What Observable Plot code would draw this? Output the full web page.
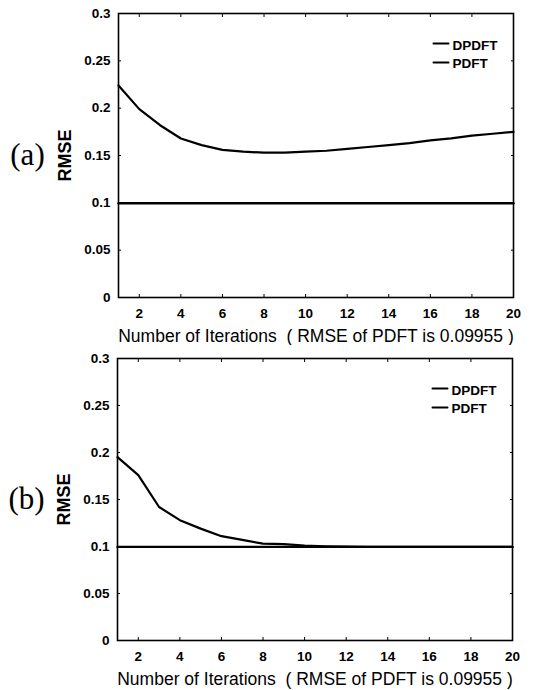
<!DOCTYPE html>
<html>
<head>
<meta charset="utf-8">
<script src="https://cdn.jsdelivr.net/npm/d3@7"></script>
<script src="https://cdn.jsdelivr.net/npm/@observablehq/plot@0.6"></script>
<style>
  html, body { margin: 0; padding: 0; background: #fff; }
  #chart svg { display: block; }
</style>
</head>
<body>
<div id="chart"></div>
<script>
// ---- data ----
const iterations = [1,2,3,4,5,6,7,8,9,10,11,12,13,14,15,16,17,18,19,20];
const dpdftA = [0.224,0.199,0.182,0.168,0.161,0.156,0.154,0.153,0.153,0.154,0.155,0.157,0.159,0.161,0.163,0.166,0.168,0.171,0.173,0.175];
const dpdftB = [0.195,0.176,0.142,0.128,0.119,0.111,0.107,0.103,0.1025,0.101,0.1002,0.0998,0.0996,0.0996,0.0996,0.0996,0.0996,0.0996,0.0996,0.0996];
const pdftRMSE = 0.09955;
const pdftValues = iterations.map(() => pdftRMSE);
const xTicks = [2,4,6,8,10,12,14,16,18,20];
const yTicks = [0,0.05,0.1,0.15,0.2,0.25,0.3];
const yTickLabels = ["0","0.05","0.1","0.15","0.2","0.25","0.3"];
const seriesNames = ["DPDFT", "PDFT"];
const panelLabels = ["(a)", "(b)"];
const xTitle = "Number of Iterations  ( RMSE of PDFT is 0.09955 )";
const yTitle = "RMSE";

const sans = "'Liberation Sans', Arial, sans-serif";
const serif = "'Liberation Serif', 'Times New Roman', serif";

const lineShape = {draw(ctx, l) { ctx.moveTo(0, 0); ctx.lineTo(0, -l); }};

function legendEntry(name, i) {
  return [
    Plot.vector([name], {frameAnchor: "top-right", dx: -80, dy: 30 + i * 19, rotate: 90, length: 15, anchor: "start", shape: lineShape, stroke: "#000", strokeWidth: 2}),
    Plot.text([name], {text: d => d, frameAnchor: "top-right", dx: -61, dy: 32 + i * 18, textAnchor: "start", lineAnchor: "middle", fontSize: 13.5, fontWeight: "bold", fontFamily: sans, fill: "#000"})
  ];
}

function panel(dp, label, margins) {
  const rowsD = iterations.map((x, i) => ({x, y: dp[i]}));
  const rowsP = iterations.map((x, i) => ({x, y: pdftValues[i]}));
  const tickFont = {fontSize: 13.5, fontWeight: "bold", fontFamily: sans};
  return Plot.plot({
    width: 553,
    height: 345,
    ...margins,
    style: {fontFamily: sans, background: "#fff", color: "#000"},
    x: {domain: [1, 20], ticks: xTicks},
    y: {domain: [0, 0.3], ticks: yTicks},
    marks: [
      Plot.axisX({anchor: "bottom", ticks: xTicks, tickSize: -3, tickPadding: 14, label: null, ...tickFont}),
      Plot.axisX({anchor: "top", ticks: xTicks, tickSize: -3, tickFormat: () => "", label: null}),
      Plot.axisY({anchor: "left", ticks: yTicks, tickSize: -3, tickPadding: 11, label: null,
        tickFormat: d => yTickLabels[yTicks.indexOf(d)], ...tickFont}),
      Plot.axisY({anchor: "right", ticks: yTicks, tickSize: -3, tickFormat: () => "", label: null}),
      Plot.line(rowsP, {x: "x", y: "y", stroke: "#000", strokeWidth: 2.4}),
      Plot.line(rowsD, {x: "x", y: "y", stroke: "#000", strokeWidth: 2.2}),
      Plot.frame({stroke: "#000", strokeWidth: 1.6}),
      ...seriesNames.flatMap(legendEntry),
      // axis titles
      Plot.text([xTitle], {text: d => d, frameAnchor: "bottom", dy: 39, textAnchor: "middle", lineAnchor: "middle", fontSize: 17.5, fontFamily: sans, fill: "#000"}),
      Plot.text([yTitle], {text: d => d, frameAnchor: "left", dx: -53, rotate: -90, textAnchor: "middle", lineAnchor: "middle", fontSize: 18, fontWeight: "bold", fontFamily: sans, fill: "#000"}),
      Plot.text([label], {text: d => d, frameAnchor: "left", dx: -91, textAnchor: "middle", lineAnchor: "middle", fontSize: 31, fontFamily: serif, fill: "#000"})
    ]
  });
}

const chart = document.getElementById("chart");
chart.appendChild(panel(dpdftA, panelLabels[0], {marginTop: 13, marginBottom: 48, marginLeft: 118, marginRight: 40}));
chart.appendChild(panel(dpdftB, panelLabels[1], {marginTop: 13, marginBottom: 50, marginLeft: 117, marginRight: 41}));
</script>
</body>
</html>
